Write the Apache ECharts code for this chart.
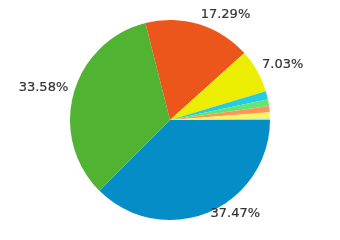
<!DOCTYPE html>
<html><head><meta charset="utf-8">
<script src="https://cdn.jsdelivr.net/npm/echarts@6/dist/echarts.min.js"></script>
<style>html,body{margin:0;padding:0;background:#fff}#c{width:340px;height:240px}</style>
</head><body><div id="c"></div>
<script>
var names = ['A','B','C','D','E','F','G','H','I'];
var values = [37.47, 33.58, 17.29, 7.03, 1.3, 1.1, 1.0, 1.0, 0.23];
var colors = ['#058DC7','#50B432','#ED561B','#EBEE00','#24CBE5','#64E572','#FF9655','#FFF263','#6AF9C4'];
var data = values.map(function(v,i){
  return {name:names[i], value:v, itemStyle:{color:colors[i]}, label:{show: v>5}};
});
var chart = echarts.init(document.getElementById('c'));
chart.setOption({
  animation:false,
  series:[{
    type:'pie',
    center:[170,120],
    radius:100,
    startAngle:0,
    clockwise:true,
    data:data,
    itemStyle:{borderWidth:0},
    label:{position:'outside', formatter:'{d}%\n ', lineHeight:8, color:'#333', fontFamily:'DejaVu Sans', fontSize:13, fontWeight:'normal', overflow:'none', distanceToLabelLine:0, textBorderColor:'#333', textBorderWidth:0.2},
    labelLine:{show:false, length:5.5, length2:0},
    emphasis:{disabled:true}
  }]
});
</script></body></html>
